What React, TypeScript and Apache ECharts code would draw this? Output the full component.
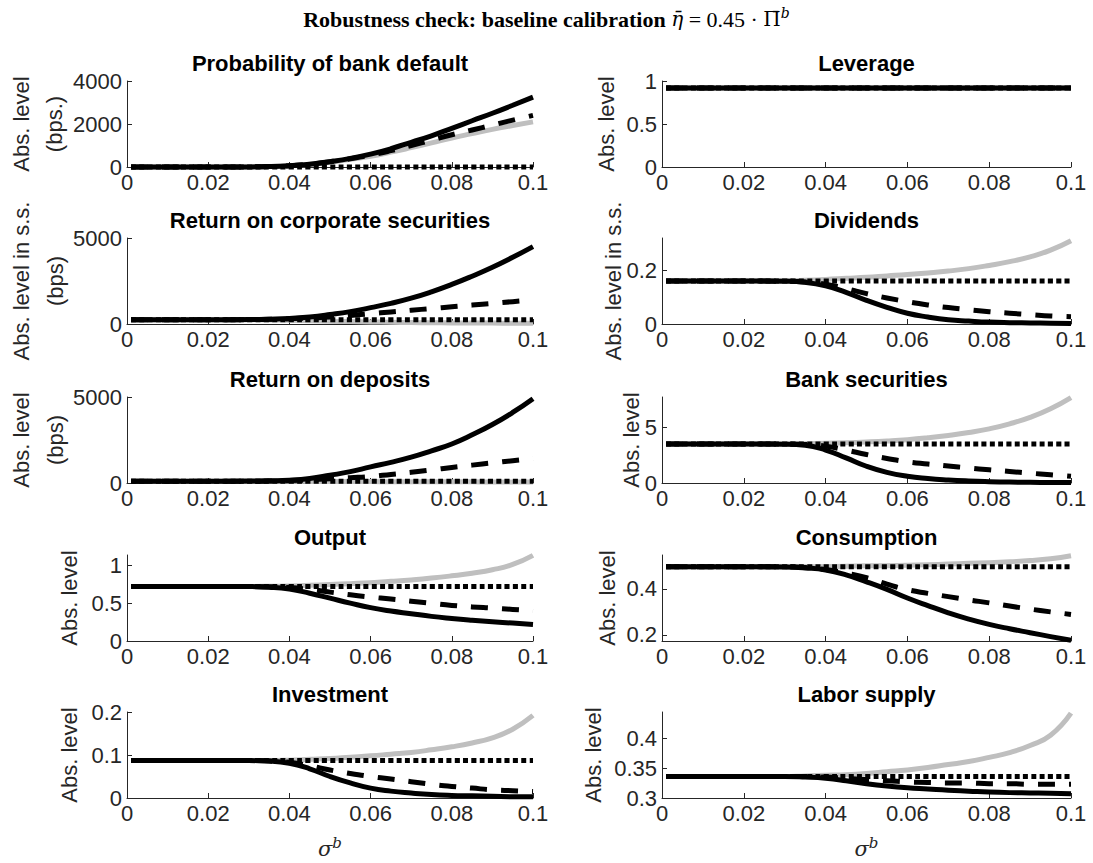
import React, { useEffect, useRef } from "react";
import * as echarts from "echarts";

// ---------- data ----------
const xs = [0.001, 0.01, 0.02, 0.03, 0.035, 0.04, 0.045, 0.05, 0.055, 0.06, 0.065, 0.07, 0.075, 0.08, 0.085, 0.09, 0.095, 0.1];
const xTicks = [0, 0.02, 0.04, 0.06, 0.08, 0.1];

const mainTitle = "Robustness check: baseline calibration ";
const titles = [
  "Probability of bank default", "Leverage",
  "Return on corporate securities", "Dividends",
  "Return on deposits", "Bank securities",
  "Output", "Consumption",
  "Investment", "Labor supply",
];
const yLabels = [
  ["Abs. level", "(bps.)"], ["Abs. level"],
  ["Abs. level in s.s.", "(bps)"], ["Abs. level in s.s."],
  ["Abs. level", "(bps)"], ["Abs. level"],
  ["Abs. level"], ["Abs. level"],
  ["Abs. level"], ["Abs. level"],
];
const yMins = [0, 0, 0, 0, 0, 0, 0, 0.174, 0, 0.3];
const yMaxs = [4000, 1, 5000, 0.32, 5000, 7.7, 1.135, 0.546, 0.2, 0.444];
const yTicks = [
  [0, 2000, 4000], [0, 0.5, 1],
  [0, 5000], [0, 0.2],
  [0, 5000], [0, 5],
  [0, 0.5, 1], [0.2, 0.4],
  [0, 0.1, 0.2], [0.3, 0.35, 0.4],
];

// Probability of bank default
const probSolid = [0, 0, 0, 5, 20, 60, 130, 250, 400, 600, 850, 1150, 1450, 1800, 2150, 2500, 2870, 3250];
const probDashed = [0, 0, 0, 5, 20, 60, 130, 240, 380, 550, 760, 1000, 1250, 1500, 1720, 1950, 2180, 2400];
const probDotted = [5, 5, 5, 5, 5, 5, 5, 5, 5, 5, 5, 5, 5, 5, 5, 5, 5, 5];
const probGray = [0, 0, 0, 5, 20, 60, 125, 230, 360, 500, 690, 900, 1120, 1350, 1550, 1750, 1930, 2100];
// Leverage
const levSolid = [0.92, 0.92, 0.92, 0.92, 0.92, 0.92, 0.92, 0.92, 0.92, 0.92, 0.92, 0.92, 0.92, 0.92, 0.92, 0.92, 0.92, 0.92];
const levDashed = [0.92, 0.92, 0.92, 0.92, 0.92, 0.92, 0.92, 0.92, 0.92, 0.92, 0.92, 0.92, 0.92, 0.92, 0.92, 0.92, 0.92, 0.92];
const levDotted = [0.92, 0.92, 0.92, 0.92, 0.92, 0.92, 0.92, 0.92, 0.92, 0.92, 0.92, 0.92, 0.92, 0.92, 0.92, 0.92, 0.92, 0.92];
const levGray = [0.92, 0.92, 0.92, 0.92, 0.92, 0.92, 0.92, 0.92, 0.92, 0.92, 0.92, 0.92, 0.92, 0.92, 0.92, 0.92, 0.92, 0.92];
// Return on corporate securities
const corpSolid = [250, 250, 250, 260, 280, 320, 410, 550, 720, 950, 1200, 1500, 1870, 2300, 2780, 3300, 3880, 4500];
const corpDashed = [250, 250, 250, 255, 270, 300, 350, 400, 500, 600, 700, 800, 900, 1000, 1100, 1200, 1300, 1400];
const corpDotted = [250, 250, 250, 250, 250, 250, 250, 250, 250, 250, 250, 250, 250, 250, 250, 250, 250, 250];
const corpGray = [250, 250, 250, 245, 235, 215, 190, 165, 140, 120, 100, 85, 75, 65, 58, 52, 47, 42];
// Dividends
const divSolid = [0.16, 0.16, 0.16, 0.159, 0.155, 0.142, 0.118, 0.088, 0.062, 0.04, 0.026, 0.016, 0.011, 0.007, 0.005, 0.004, 0.003, 0.002];
const divDashed = [0.16, 0.16, 0.16, 0.159, 0.156, 0.148, 0.132, 0.113, 0.097, 0.083, 0.071, 0.061, 0.053, 0.046, 0.04, 0.035, 0.03, 0.027];
const divDotted = [0.16, 0.16, 0.16, 0.16, 0.16, 0.16, 0.16, 0.16, 0.16, 0.16, 0.16, 0.16, 0.16, 0.16, 0.16, 0.16, 0.16, 0.16];
const divGray = [0.16, 0.16, 0.16, 0.161, 0.163, 0.166, 0.17, 0.174, 0.179, 0.184, 0.19, 0.197, 0.206, 0.218, 0.232, 0.25, 0.275, 0.31];
// Return on deposits
const depSolid = [100, 100, 100, 110, 125, 160, 260, 450, 660, 940, 1200, 1500, 1870, 2270, 2800, 3400, 4100, 4900];
const depDashed = [100, 100, 100, 105, 115, 140, 185, 250, 310, 380, 500, 620, 760, 905, 1040, 1170, 1300, 1420];
const depDotted = [100, 100, 100, 100, 100, 100, 100, 100, 100, 100, 100, 100, 100, 100, 100, 100, 100, 100];
const depGray = [100, 100, 100, 100, 98, 96, 93, 90, 86, 82, 78, 75, 72, 69, 66, 63, 60, 58];
// Bank securities
const bsSolid = [3.5, 3.5, 3.5, 3.48, 3.38, 2.95, 2.25, 1.5, 0.95, 0.6, 0.4, 0.27, 0.18, 0.12, 0.08, 0.06, 0.05, 0.04];
const bsDashed = [3.5, 3.5, 3.5, 3.49, 3.45, 3.3, 2.95, 2.55, 2.2, 1.9, 1.7, 1.52, 1.35, 1.18, 1.03, 0.88, 0.74, 0.6];
const bsDotted = [3.5, 3.5, 3.5, 3.5, 3.5, 3.5, 3.5, 3.5, 3.5, 3.5, 3.5, 3.5, 3.5, 3.5, 3.5, 3.5, 3.5, 3.5];
const bsGray = [3.5, 3.5, 3.5, 3.5, 3.52, 3.55, 3.6, 3.67, 3.76, 3.88, 4.05, 4.26, 4.52, 4.85, 5.3, 5.88, 6.65, 7.65];
// Output
const outSolid = [0.72, 0.72, 0.72, 0.718, 0.71, 0.685, 0.63, 0.565, 0.5, 0.44, 0.395, 0.36, 0.325, 0.298, 0.275, 0.255, 0.236, 0.218];
const outDashed = [0.72, 0.72, 0.72, 0.72, 0.716, 0.705, 0.68, 0.645, 0.61, 0.58, 0.553, 0.526, 0.498, 0.47, 0.45, 0.434, 0.417, 0.4];
const outDotted = [0.72, 0.72, 0.72, 0.72, 0.72, 0.72, 0.72, 0.72, 0.72, 0.72, 0.72, 0.72, 0.72, 0.72, 0.72, 0.72, 0.72, 0.72];
const outGray = [0.72, 0.72, 0.72, 0.72, 0.722, 0.727, 0.735, 0.745, 0.757, 0.77, 0.787, 0.806, 0.83, 0.86, 0.895, 0.94, 1.01, 1.13];
// Consumption
const conSolid = [0.495, 0.495, 0.495, 0.494, 0.49, 0.481, 0.46, 0.43, 0.397, 0.36, 0.327, 0.296, 0.269, 0.246, 0.227, 0.21, 0.193, 0.177];
const conDashed = [0.495, 0.495, 0.495, 0.495, 0.492, 0.483, 0.467, 0.448, 0.42, 0.396, 0.38, 0.366, 0.352, 0.339, 0.325, 0.312, 0.3, 0.289];
const conDotted = [0.495, 0.495, 0.495, 0.495, 0.495, 0.495, 0.495, 0.495, 0.495, 0.495, 0.495, 0.495, 0.495, 0.495, 0.495, 0.495, 0.495, 0.495];
const conGray = [0.495, 0.495, 0.495, 0.495, 0.495, 0.496, 0.497, 0.499, 0.5, 0.502, 0.504, 0.507, 0.51, 0.513, 0.517, 0.522, 0.53, 0.543];
// Investment
const invSolid = [0.087, 0.087, 0.087, 0.087, 0.086, 0.081, 0.068, 0.05, 0.035, 0.023, 0.016, 0.0115, 0.008, 0.006, 0.005, 0.004, 0.003, 0.003];
const invDashed = [0.087, 0.087, 0.087, 0.087, 0.086, 0.083, 0.075, 0.065, 0.057, 0.05, 0.044, 0.038, 0.032, 0.027, 0.023, 0.019, 0.017, 0.015];
const invDotted = [0.087, 0.087, 0.087, 0.087, 0.087, 0.087, 0.087, 0.087, 0.087, 0.087, 0.087, 0.087, 0.087, 0.087, 0.087, 0.087, 0.087, 0.087];
const invGray = [0.087, 0.087, 0.087, 0.087, 0.087, 0.088, 0.09, 0.092, 0.095, 0.098, 0.102, 0.106, 0.112, 0.119, 0.128, 0.14, 0.16, 0.192];
// Labor supply
const labSolid = [0.336, 0.336, 0.336, 0.336, 0.335, 0.333, 0.329, 0.324, 0.32, 0.317, 0.315, 0.313, 0.3115, 0.31, 0.309, 0.3085, 0.308, 0.307];
const labDashed = [0.336, 0.336, 0.336, 0.336, 0.336, 0.335, 0.333, 0.331, 0.329, 0.327, 0.326, 0.325, 0.325, 0.324, 0.324, 0.323, 0.323, 0.323];
const labDotted = [0.336, 0.336, 0.336, 0.336, 0.336, 0.336, 0.336, 0.336, 0.336, 0.336, 0.336, 0.336, 0.336, 0.336, 0.336, 0.336, 0.336, 0.336];
const labGray = [0.336, 0.336, 0.336, 0.336, 0.337, 0.338, 0.339, 0.341, 0.344, 0.347, 0.351, 0.356, 0.361, 0.368, 0.376, 0.388, 0.405, 0.442];

const solids = [probSolid, levSolid, corpSolid, divSolid, depSolid, bsSolid, outSolid, conSolid, invSolid, labSolid];
const dasheds = [probDashed, levDashed, corpDashed, divDashed, depDashed, bsDashed, outDashed, conDashed, invDashed, labDashed];
const dotteds = [probDotted, levDotted, corpDotted, divDotted, depDotted, bsDotted, outDotted, conDotted, invDotted, labDotted];
const grays = [probGray, levGray, corpGray, divGray, depGray, bsGray, outGray, conGray, invGray, labGray];

// ---------- layout ----------
const W = 1093;
const H = 863;
const colLeft = [127, 662];
const colWidth = [406, 409];
const rowTop = [81, 238, 397, 555, 712];
const plotH = 86;
const FS = 22;
const SANS = "'Liberation Sans', Arial, Helvetica, sans-serif";
const SERIF = "'Liberation Serif', 'DejaVu Serif', serif";
const MATH = "'DejaVu Serif', serif";
const AX = "#262626";
// y-label x centers per panel (one entry per line)
const yLabX = [
  [21, 54], [606],
  [21, 55], [613],
  [21, 55], [631],
  [69], [607],
  [69], [593],
];

const fmt = (v: number) => String(parseFloat(v.toFixed(4)));

function buildOption() {
  const grid: any[] = [];
  const xAxis: any[] = [];
  const yAxis: any[] = [];
  const series: any[] = [];
  const graphic: any[] = [];

  for (let i = 0; i < 10; i++) {
    const col = i % 2;
    const row = Math.floor(i / 2);
    const left = colLeft[col];
    const top = rowTop[row];
    const width = colWidth[col];
    grid.push({ left, top, width, height: plotH, containLabel: false });
    xAxis.push({
      type: "value",
      gridIndex: i,
      min: 0,
      max: 0.1,
      axisLine: { show: true, lineStyle: { color: AX, width: 1 } },
      axisTick: { show: true, inside: true, length: 5, customValues: xTicks, lineStyle: { color: AX } },
      axisLabel: { customValues: xTicks, formatter: fmt, fontSize: FS, color: AX, fontFamily: SANS, margin: 4 },
      splitLine: { show: false },
    });
    yAxis.push({
      type: "value",
      gridIndex: i,
      min: yMins[i],
      max: yMaxs[i],
      axisLine: { show: true, lineStyle: { color: AX, width: 1 } },
      axisTick: { show: true, inside: true, length: 5, customValues: yTicks[i], lineStyle: { color: AX } },
      axisLabel: { customValues: yTicks[i], formatter: fmt, fontSize: FS, color: AX, fontFamily: SANS, margin: 5 },
      splitLine: { show: false },
    });
    const mk = (arr: number[], color: string, type: any, name: string) => ({
      type: "line",
      name,
      xAxisIndex: i,
      yAxisIndex: i,
      data: xs.map((x, j) => [x, arr[j]]),
      showSymbol: false,
      symbol: "none",
      smooth: true,
      clip: false,
      lineStyle: { color, width: 5, type, cap: "butt", join: "round" },
      emphasis: { disabled: true },
      silent: true,
    });
    series.push(mk(grays[i], "#bfbfbf", "solid", "gray"));
    series.push(mk(solids[i], "#000000", "solid", "solid"));
    series.push(mk(dasheds[i], "#000000", [17, 14], "dashed"));
    series.push(mk(dotteds[i], "#000000", [5, 3.3], "dotted"));

    // subplot title
    graphic.push({
      type: "text",
      x: left + width / 2,
      y: top - 18,
      style: {
        text: titles[i],
        font: `bold ${FS}px ${SANS}`,
        fill: "#000",
        textAlign: "center",
        textVerticalAlign: "middle",
      },
    });
    // y labels
    const cy = top + plotH / 2;
    yLabels[i].forEach((t, k) => {
      graphic.push({
        type: "text",
        x: yLabX[i][k],
        y: cy,
        rotation: Math.PI / 2,
        style: {
          text: t,
          font: `${FS}px ${SANS}`,
          fill: AX,
          textAlign: "center",
          textVerticalAlign: "middle",
        },
      });
    });
  }

  // sigma^b labels
  [0, 1].forEach((col) => {
    graphic.push({
      type: "text",
      x: colLeft[col] + colWidth[col] / 2,
      y: 849,
      style: {
        text: "{s|σ}{b|b}",
        textAlign: "center",
        textVerticalAlign: "middle",
        fill: AX,
        rich: {
          s: { fontFamily: MATH, fontStyle: "italic", fontSize: 21, fill: AX },
          b: { fontFamily: MATH, fontStyle: "italic", fontSize: 15, fill: AX, padding: [0, 0, 12, 0] },
        },
      },
    });
  });

  return {
    animation: false,
    backgroundColor: "#ffffff",
    title: {
      text: `{a|${mainTitle}}{e|η̄}{n| = 0.45 · }{p|Π̄}{s|b}`,
      left: "center",
      top: 1,
      textStyle: {
        fontWeight: "normal",
        rich: {
          a: { fontFamily: SERIF, fontWeight: "bold", fontSize: 22, color: "#000" },
          e: { fontFamily: MATH, fontStyle: "italic", fontWeight: "normal", fontSize: 20, color: "#000" },
          n: { fontFamily: SERIF, fontWeight: "normal", fontSize: 22, color: "#000" },
          p: { fontFamily: MATH, fontWeight: "normal", fontSize: 20, color: "#000" },
          s: { fontFamily: MATH, fontStyle: "italic", fontWeight: "normal", fontSize: 14, color: "#000", padding: [0, 0, 12, 0] },
        },
      },
    },
    grid,
    xAxis,
    yAxis,
    series,
    graphic,
  };
}

export default function App() {
  const ref = useRef<HTMLDivElement>(null);
  useEffect(() => {
    const chart = echarts.init(ref.current!, null, { renderer: "svg" });
    chart.setOption(buildOption() as any);
    return () => chart.dispose();
  }, []);
  return (
    <div
      ref={ref}
      style={{ position: "absolute", left: 0, top: 0, width: W, height: H, background: "#fff" }}
    />
  );
}
